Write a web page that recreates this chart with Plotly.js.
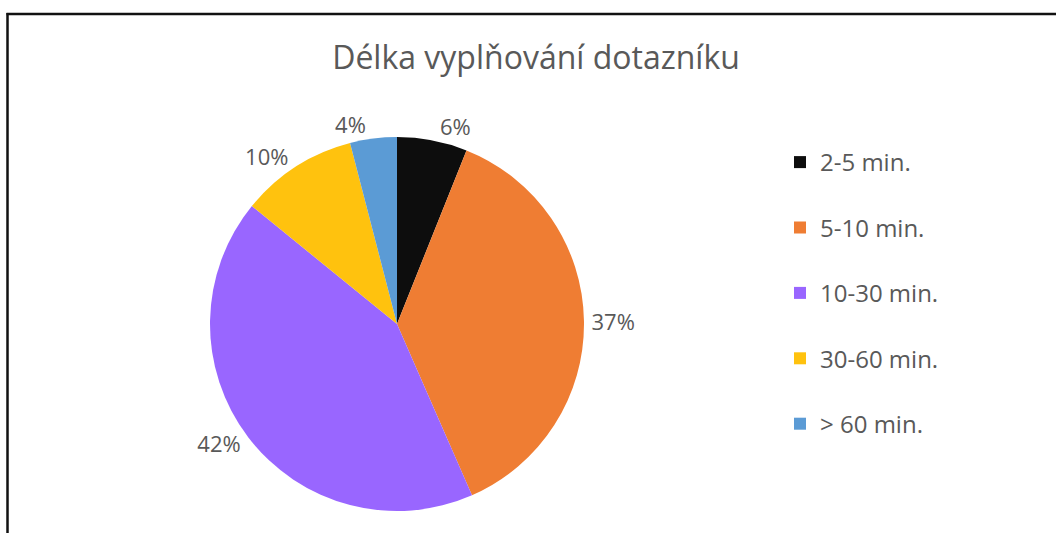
<!DOCTYPE html>
<html>
<head>
<meta charset="utf-8">
<script src="https://cdn.plot.ly/plotly-3.0.1.min.js"></script>
<style>
html, body { margin: 0; padding: 0; background: #fff; }
#chart { width: 1056px; height: 533px; }
</style>
</head>
<body>
<div id="chart"></div>
<script>
const categories = ["2-5 min.", "5-10 min.", "10-30 min.", "30-60 min.", "> 60 min."];
const percentValues = [6, 37, 42, 10, 4];
const sliceColors = ["#0d0d0d", "#ef7d33", "#9966ff", "#ffc20e", "#5b9bd5"];
const chartTitle = "Délka vyplňování dotazníku";

const W = 1056, H = 533;
const cx = 397, cy = 324, r = 187;

const trace = {
  type: "pie",
  labels: categories.map(c => c + "<br> "),
  values: percentValues,
  sort: false,
  direction: "clockwise",
  rotation: 0,
  marker: { colors: sliceColors, line: { width: 0 } },
  textposition: "outside",
  texttemplate: "%{value}%",
  textfont: { family: "Open Sans", size: 22, color: "#595959" },
  hoverinfo: "label+percent",
  domain: {
    x: [(cx - r) / W, (cx + r) / W],
    y: [(H - cy - r) / H, (H - cy + r) / H]
  },
  automargin: false,
  showlegend: true
};

const layout = {
  width: W, height: H,
  margin: { l: 0, r: 0, t: 0, b: 0 },
  paper_bgcolor: "#ffffff",
  plot_bgcolor: "#ffffff",
  font: { family: "Open Sans", color: "#595959" },
  title: {
    text: chartTitle,
    font: { family: "Open Sans", size: 32, color: "#595959" },
    x: 536 / W, xanchor: "center",
    y: 1 - 58 / H, yanchor: "middle"
  },
  legend: {
    x: 780 / W, xanchor: "left",
    y: 1 - 140 / H, yanchor: "top",
    font: { family: "Open Sans", size: 24, color: "#595959" },
    valign: "top",
    bgcolor: "rgba(0,0,0,0)"
  },
  shapes: [
    { type: "line", xref: "paper", yref: "paper", x0: 7.5 / W, x1: 7.5 / W, y0: 0, y1: 1 - 13 / H, line: { color: "#111", width: 2.5 } },
    { type: "line", xref: "paper", yref: "paper", x0: 6.5 / W, x1: 1, y0: 1 - 14 / H, y1: 1 - 14 / H, line: { color: "#111", width: 2.5 } }
  ]
};

Plotly.newPlot("chart", [trace], layout, { displayModeBar: false, staticPlot: true });
</script>
</body>
</html>
